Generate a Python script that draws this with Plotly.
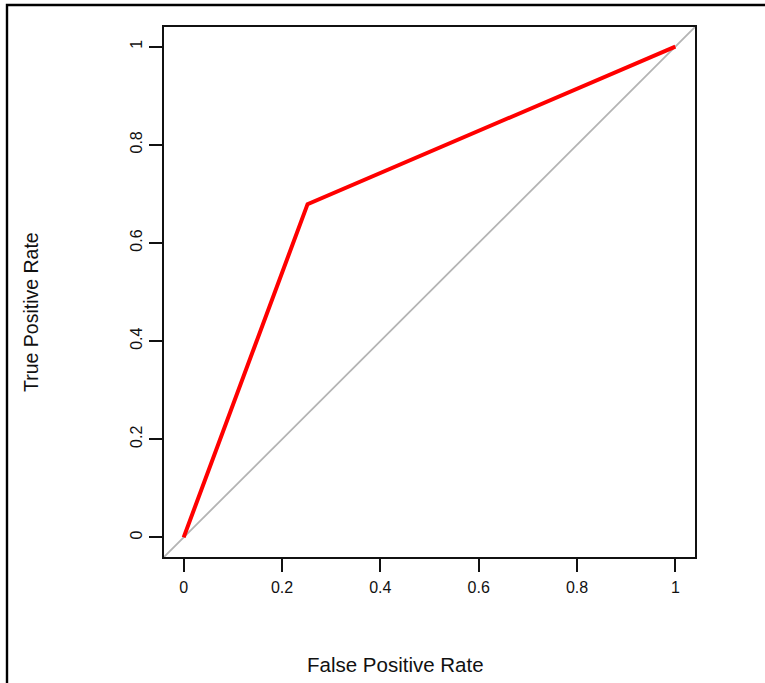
import plotly.graph_objects as go

# ROC curve data
fpr = [0.0, 0.252, 1.0]
tpr = [0.0, 0.679, 1.0]

x_ticks = [0, 0.2, 0.4, 0.6, 0.8, 1]
x_ticktext = ["0", "0.2", "0.4", "0.6", "0.8", "1"]
y_ticks = [0, 0.2, 0.4, 0.6, 0.8, 1]
y_ticktext = ["0", "0.2", "0.4", "0.6", "0.8", "1"]

axis_range = [-0.04, 1.04]

FONT = "Liberation Sans, Arial, sans-serif"

fig = go.Figure()

# chance diagonal (abline) spanning the full plot region
fig.add_shape(type="line", xref="x", yref="y",
              x0=axis_range[0], y0=axis_range[0], x1=axis_range[1], y1=axis_range[1],
              line=dict(color="#b4b4b4", width=1.8), layer="below")

fig.add_trace(go.Scatter(x=fpr, y=tpr, mode="lines",
                         line=dict(color="#ff0000", width=4),
                         showlegend=False, hoverinfo="skip"))

W, H = 765, 683
ml, mr, mt, mb = 164, 70, 27, 126
pw, ph = W - ml - mr, H - mt - mb

def px_x(px):
    return (px - ml) / pw

def px_y(py):
    return (H - mb - py) / ph

axis_common = dict(range=axis_range, showgrid=False, zeroline=False,
                   showline=True, linecolor="#111111", linewidth=1.8, mirror=True,
                   ticks="outside", ticklen=13, tickwidth=1.8, tickcolor="#111111",
                   tickfont=dict(family=FONT, size=16, color="#111111"))

fig.update_xaxes(tickvals=x_ticks, ticktext=x_ticktext, ticklabelstandoff=2, **axis_common)
fig.update_yaxes(tickvals=y_ticks, ticktext=y_ticktext, tickangle=-90, ticklabelstandoff=1, **axis_common)

# outer frame
fig.add_shape(type="rect", xref="paper", yref="paper",
              x0=px_x(7), y0=px_y(700), x1=px_x(790), y1=px_y(5),
              line=dict(color="black", width=2.4), fillcolor="rgba(0,0,0,0)")

fig.add_annotation(text="False Positive Rate", xref="paper", yref="paper",
                   x=px_x(395), y=px_y(664), showarrow=False,
                   xanchor="center", yanchor="middle",
                   font=dict(family=FONT, size=20.5, color="#111111"))
fig.add_annotation(text="True Positive Rate", xref="paper", yref="paper",
                   x=px_x(31), y=px_y(312), showarrow=False, textangle=-90,
                   xanchor="center", yanchor="middle",
                   font=dict(family=FONT, size=19.5, color="#111111"))

fig.update_layout(width=W, height=H,
                  margin=dict(l=ml, r=mr, t=mt, b=mb, autoexpand=False),
                  paper_bgcolor="white", plot_bgcolor="white",
                  font=dict(family=FONT))

fig.write_html("out.html", config={"displayModeBar": False},
               post_script="document.body.style.margin='0';document.body.style.overflow='hidden';")
